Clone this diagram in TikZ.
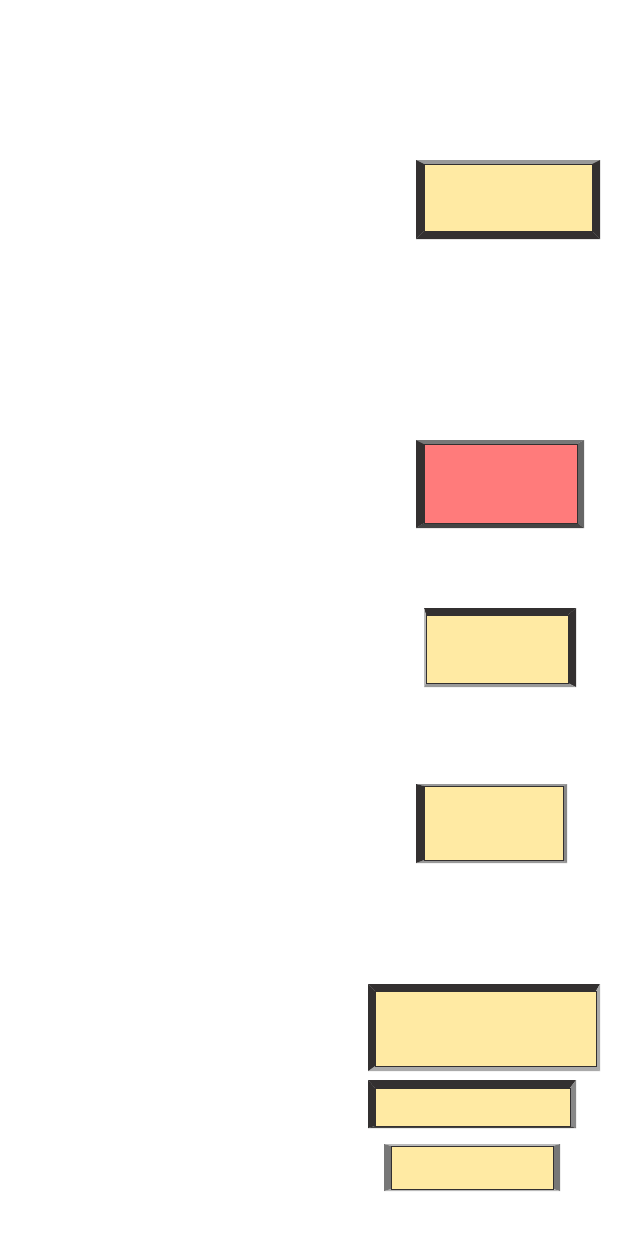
\documentclass[tikz,border=0pt]{standalone}
\usepackage{tikz}
\definecolor{dk}{HTML}{333030}
\definecolor{yl}{HTML}{FFEAA3}
\definecolor{rd}{HTML}{FF7B7B}
\definecolor{g6}{HTML}{666666}
\definecolor{g7}{HTML}{777777}
\definecolor{g8}{HTML}{888888}
\definecolor{g9}{HTML}{999999}
\definecolor{ga}{HTML}{AAAAAA}
\definecolor{gb}{HTML}{BBBBBB}
\definecolor{d4}{HTML}{444444}
\newcommand\defbox[8]{%
 \coordinate (A) at (#1,#2); \coordinate (B) at (#3,#2);
 \coordinate (C) at (#3,#4); \coordinate (D) at (#1,#4);
 \coordinate (a) at (#1+#8,#2+#5); \coordinate (b) at (#3-#6,#2+#5);
 \coordinate (c) at (#3-#6,#4-#7); \coordinate (d) at (#1+#8,#4-#7);}
\newcommand\paint[6]{%
 \fill[#1] (A)--(B)--(b)--(a)--cycle;
 \fill[#2] (B)--(C)--(c)--(b)--cycle;
 \fill[#3] (C)--(D)--(d)--(c)--cycle;
 \fill[#4] (D)--(A)--(a)--(d)--cycle;
 \node[inner box, fill=#5, fit=(a)(c)] (#6) {};}
\usetikzlibrary{fit}
\begin{document}
\begin{tikzpicture}[x=1pt,y=-1pt,
  inner box/.style={draw=dk,line width=0.8pt,inner sep=0pt,outer sep=0pt,rectangle}]
\useasboundingbox (0,0) rectangle (630,1244);
\defbox{416}{160}{600}{239}{4}{8}{8}{8}
\paint{g9}{dk}{dk}{dk}{yl}{b1}
\defbox{416}{440}{584}{528}{4}{7}{5}{8}
\paint{g7}{g6}{d4}{dk}{rd}{b2}
\defbox{424}{608}{576}{687}{7}{8}{4}{2}
\paint{dk}{dk}{g9}{gb}{yl}{b3}
\defbox{416}{784}{567}{863}{2}{4}{3}{8}
\paint{g9}{g8}{g9}{dk}{yl}{b4}
\defbox{368}{984}{600}{1071}{7}{4}{5}{7}
\paint{dk}{ga}{ga}{dk}{yl}{b5}
\defbox{368}{1080}{576}{1128}{8}{6}{2}{7}
\paint{dk}{g8}{d4}{dk}{yl}{b6}
\defbox{384}{1144}{560}{1191}{2}{7}{2}{7}
\paint{gb}{g7}{gb}{g7}{yl}{b7}
\end{tikzpicture}
\end{document}
